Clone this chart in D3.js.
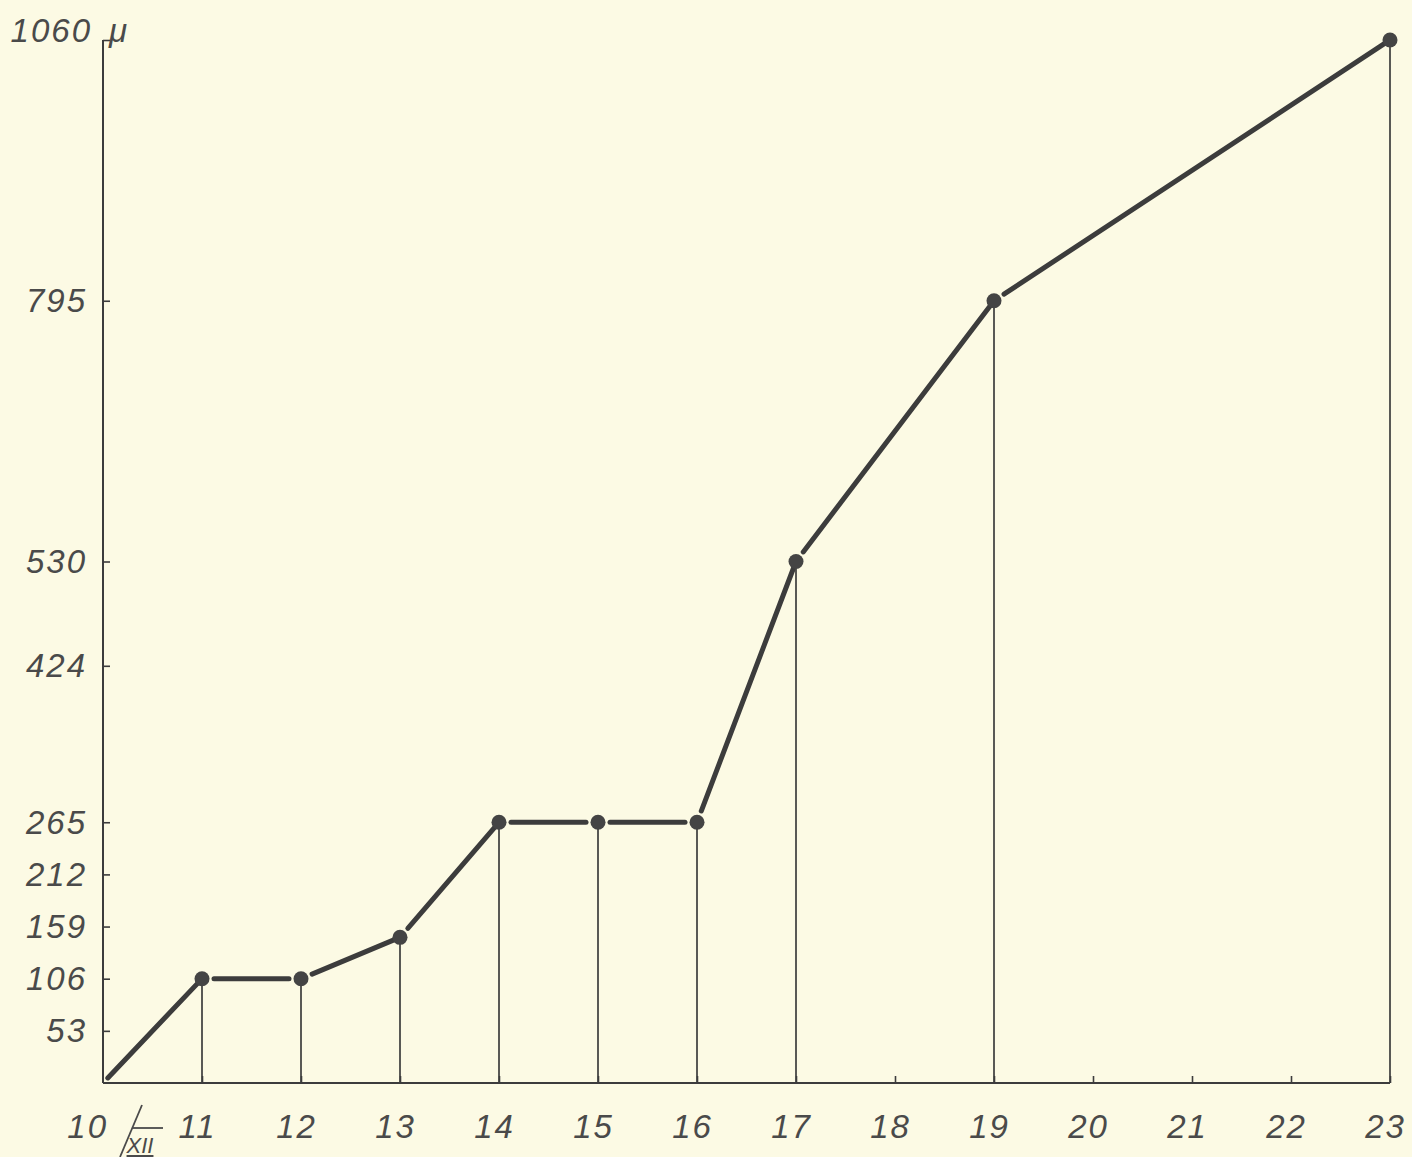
<!DOCTYPE html>
<html>
<head>
<meta charset="utf-8">
<script src="https://cdn.jsdelivr.net/npm/d3@7"></script>
<style>
  html, body { margin: 0; padding: 0; background: #fcfae4; }
  svg { display: block; }
  .lbl { font-family: "Liberation Sans", sans-serif; font-style: italic; font-size: 33px; letter-spacing: 2px; fill: #4a4a4a; }
</style>
</head>
<body>
<div id="chart"></div>
<script>
// ---- data ----
const days = [10, 11, 12, 13, 14, 15, 16, 17, 19, 23];
const lengths = [0, 106, 106, 148, 265, 265, 265, 530, 795, 1060];
const yTicks = [53, 106, 159, 212, 265, 424, 530, 795, 1060];
const xTicks = [11, 12, 13, 14, 15, 16, 17, 18, 19, 20, 21, 22, 23];
const unit = 'μ';
const month = 'XII';

const W = 1412, H = 1157;
const ink = '#3c3c3c';

const svg = d3.select('#chart').append('svg')
    .attr('width', W)
    .attr('height', H);

svg.append('rect').attr('width', W).attr('height', H).attr('fill', '#fcfae4');

const x = d3.scaleLinear().domain([10, 23]).range([103, 1390]);
const y = d3.scaleLinear().domain([0, 1060]).range([1083, 40]);

// y axis, ticks pointing inward
const yAxis = d3.axisLeft(y)
    .tickValues(yTicks)
    .tickSize(-7)
    .tickPadding(16)
    .tickFormat(d => d === 1060 ? '' : d);

const gy = svg.append('g')
    .attr('transform', `translate(${x(10)},0)`)
    .call(yAxis);
gy.select('.domain').attr('stroke', ink).attr('stroke-width', 2)
    .attr('d', `M0,${y(0)}V${y(1060)}`);
gy.selectAll('.tick line').attr('stroke', ink).attr('stroke-width', 1.6);
gy.selectAll('.tick text').attr('class', 'lbl').attr('font-size', null).attr('font-family', null)
    .attr('dy', '0.33em');

// top label "1060 μ"
svg.append('text').attr('class', 'lbl')
    .attr('x', 92).attr('y', y(1060) + 2)
    .attr('text-anchor', 'end')
    .text('1060');
svg.append('text').attr('class', 'lbl')
    .attr('x', x(10) + 6).attr('y', y(1060) + 2)
    .text(unit);

// x axis, ticks pointing up
const xAxis = d3.axisBottom(x)
    .tickValues(xTicks)
    .tickSize(-7)
    .tickPadding(55)
    .tickFormat(d => d);

const gx = svg.append('g')
    .attr('transform', `translate(0,${y(0)})`)
    .call(xAxis);
gx.select('.domain').attr('stroke', ink).attr('stroke-width', 2.2)
    .attr('d', `M${x(10)},0H${x(23)}`);
gx.selectAll('.tick line').attr('stroke', ink).attr('stroke-width', 1.6);
gx.selectAll('.tick text').attr('class', 'lbl').attr('font-size', null).attr('font-family', null)
    .attr('dx', '-0.15em').attr('dy', '0');

// "10 / XII" date label at origin
const bx = x(10), by = y(0);
svg.append('text').attr('class', 'lbl')
    .attr('x', 108).attr('y', by + 55)
    .attr('text-anchor', 'end')
    .text('10');
svg.append('line')
    .attr('x1', 120).attr('y1', by + 74)
    .attr('x2', 142).attr('y2', by + 22)
    .attr('stroke', '#4a4a4a').attr('stroke-width', 1.8);
svg.append('line')
    .attr('x1', 132).attr('y1', by + 45)
    .attr('x2', 163).attr('y2', by + 45)
    .attr('stroke', '#4a4a4a').attr('stroke-width', 1.8);
svg.append('text').attr('class', 'lbl')
    .attr('x', 140).attr('y', by + 70)
    .attr('text-anchor', 'middle')
    .style('font-size', '22px')
    .style('letter-spacing', '0px')
    .attr('text-decoration', 'underline')
    .text(month);

const pts = days.map((d, i) => ({ day: d, val: lengths[i] }));

// thin drop lines from each measured point
svg.append('g').selectAll('line')
    .data(pts.filter(p => p.val > 0))
    .enter().append('line')
    .attr('x1', p => x(p.day)).attr('x2', p => x(p.day))
    .attr('y1', p => y(p.val)).attr('y2', y(0))
    .attr('stroke', ink)
    .attr('stroke-width', 1.7);

// thick segments, pulled back a little from the dots
const gap = 12;
const segs = d3.pairs(pts);
svg.append('g').selectAll('line')
    .data(segs)
    .enter().append('line')
    .each(function ([a, b]) {
        const x1 = x(a.day), y1 = y(a.val), x2 = x(b.day), y2 = y(b.val);
        const len = Math.hypot(x2 - x1, y2 - y1);
        const ux = (x2 - x1) / len, uy = (y2 - y1) / len;
        const s = a.val === 0 ? 7 : gap;
        const e = b.val === a.val ? gap : 4;
        d3.select(this)
            .attr('x1', x1 + ux * s).attr('y1', y1 + uy * s)
            .attr('x2', x2 - ux * e).attr('y2', y2 - uy * e);
    })
    .attr('stroke', ink)
    .attr('stroke-width', 5)
    .attr('stroke-linecap', 'round');

// dots
svg.append('g').selectAll('circle')
    .data(pts.filter(p => p.val > 0))
    .enter().append('circle')
    .attr('cx', p => x(p.day))
    .attr('cy', p => y(p.val))
    .attr('r', 7.5)
    .attr('fill', '#444');
</script>
</body>
</html>
